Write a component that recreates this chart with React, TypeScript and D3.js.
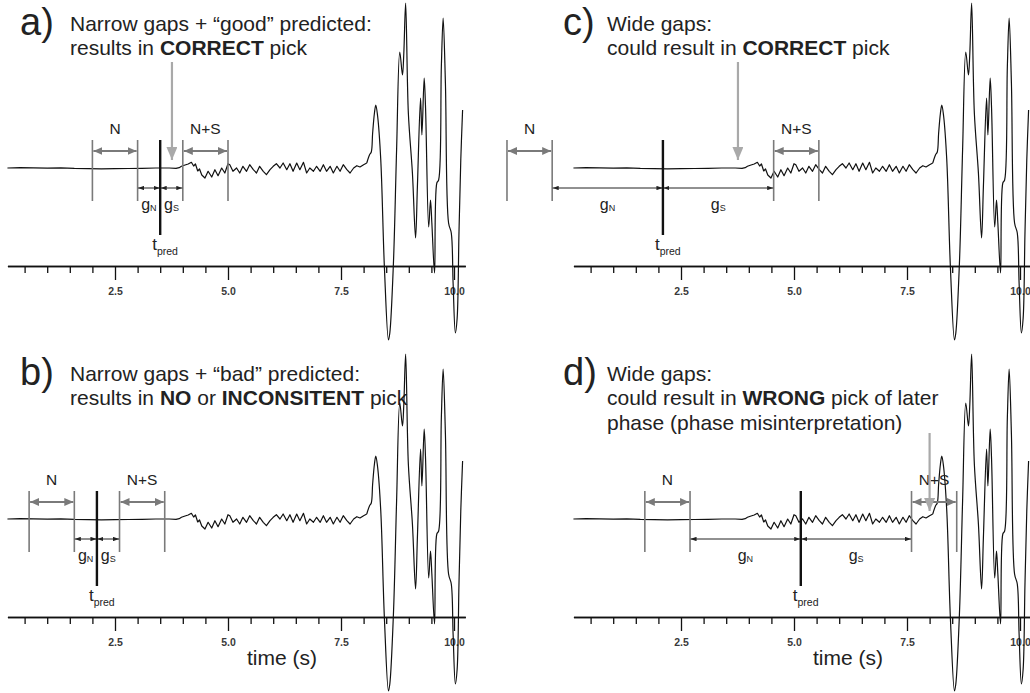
import React, { useRef, useEffect } from "react";
import * as d3 from "d3";

// seismogram: time (s) and amplitude (counts)
const traceTime = [
  0.12, 0.4, 0.7, 1.0, 1.3, 1.6, 1.9, 2.2, 2.5, 2.8, 3.1, 3.4, 3.7, 3.85,
  3.92, 3.97, 4.05, 4.12, 4.19, 4.24, 4.28, 4.33, 4.37, 4.42, 4.49, 4.56, 4.64, 4.71, 4.78, 4.86, 4.93, 5.0,
  5.04, 5.11, 5.19, 5.26, 5.33, 5.41, 5.48, 5.56, 5.63, 5.7, 5.78, 5.85, 5.93, 6.0, 6.07, 6.15, 6.22, 6.3, 6.37, 6.44, 6.52,
  6.59, 6.67, 6.74, 6.81, 6.89, 6.96, 7.04, 7.11, 7.18, 7.26, 7.33, 7.41, 7.48, 7.55, 7.63, 7.7, 7.78, 7.85, 7.92, 8.0, 8.07,
  8.13, 8.17, 8.2, 8.24, 8.27, 8.31, 8.38, 8.46, 8.55, 8.58, 8.66, 8.73, 8.8, 8.86, 8.89, 8.93, 8.99, 9.08, 9.15, 9.19,
  9.26, 9.29, 9.34, 9.37, 9.44, 9.48, 9.51, 9.57, 9.62, 9.66, 9.72, 9.76, 9.81, 9.88, 9.94, 9.98, 10.03, 10.07, 10.11,
  10.15, 10.19,
];
const traceAmp = [
  0, 0.4, 0.2, -0.2, 0.1, -0.4, -0.6, -0.8, -0.6, -0.5, -0.3, 0, 0, -0.3,
  0.3, 1.7, 3, 4, 5.7, 2, 4, -3, -1, -7, -10, -3.3, -9, -1.7, -7.7, 0, -5, 4.3,
  3.3, -3.3, 0, -5, 1.7, -3.3, 3.3, -1.7, -5, 1.7, -3.3, -6.7, -1.7, 1.7, 4.3, 0, 5, -1.7, 4.3, -3.3, 5,
  -1.7, 5.7, -5, 0, -3.3, 1.7, -3.3, 3.3, -3.3, 1.7, -5, 1.7, -3.3, 3.3, -1.7, -5, 0, 2.3, 1, 3.3, 5,
  13, 16, 35, 55, 63, 52, 8, -99, -172, -165, -95, 18, 116, 93, 115, 165, 55, -5, -70, -19,
  70, 33, 90, 61, -59, -32, -55, -105, -15, -12, 101, 150, 85, -55, -65, -115, -165, -150, -65,
  8, 58,
];
const arrivalTime = 8.07; // noise is drawn straight, the big arrival smooth

const panelIds = ["a", "b", "c", "d"];
const titles = [
  ["Narrow gaps + “good” predicted:", "results in **CORRECT** pick"],
  ["Narrow gaps + “bad” predicted:", "results in **NO** or **INCONSITENT** pick"],
  ["Wide gaps:", "could result in **CORRECT** pick"],
  ["Wide gaps:", "could result in **WRONG** pick of later", "phase (phase misinterpretation)"],
];
const tPred = [3.5, 2.1, 2.1, 5.15];
const gapN = [0.5, 0.5, 2.45, 2.45];
const gapS = [0.5, 0.5, 2.45, 2.45];
const winLen = [1, 1, 1, 1];
const pickTime = [3.76, null, 3.76, 8.0];
const majorTicks = [2.5, 5, 7.5, 10];
const tickLabels = ["2.5", "5.0", "7.5", "10.0"];

const W = 1030;
const H = 693;
const FONT = "'Liberation Sans', Arial, Helvetica, sans-serif";

export default function App() {
  const svgRef = useRef<SVGSVGElement>(null);

  useEffect(() => {
    const svg = d3.select(svgRef.current);
    svg.selectAll("*").remove();
    svg.append("rect").attr("width", W).attr("height", H).attr("fill", "#fff");

    const defs = svg.append("defs");
    const marker = (id: string, color: string, len: number, half: number) => {
      const m = defs.append("marker")
        .attr("id", id)
        .attr("viewBox", `0 0 ${len} ${half * 2}`)
        .attr("refX", len)
        .attr("refY", half)
        .attr("markerWidth", len)
        .attr("markerHeight", half * 2)
        .attr("markerUnits", "userSpaceOnUse")
        .attr("orient", "auto-start-reverse");
      m.append("path").attr("d", `M0,0L${len},${half}L0,${half * 2}Z`).attr("fill", color);
    };
    marker("headGray", "#7a7a7a", 9, 4);
    marker("headBlack", "#222", 6, 2.2);
    marker("headPick", "#a9a9a9", 13, 5.5);

    const split = traceTime.indexOf(arrivalTime);
    const pts = traceTime.map((t, k) => [t, traceAmp[k]] as [number, number]);
    const quietPts = pts.slice(0, split + 1);
    const loudPts = pts.slice(split);

    panelIds.forEach((id, i) => {
      const left = i < 2 ? 2 : 568;
      const base = i % 2 === 0 ? 168 : 519;
      const x = d3.scaleLinear().domain([0, 10]).range([left, left + 452]);
      const y = d3.scaleLinear().domain([-200, 200]).range([base + 200, base - 200]);
      const g = svg.append("g");

      // title
      const top = i % 2 === 0 ? 30.5 : 380.5;
      g.append("text")
        .attr("x", i < 2 ? 20 : 563)
        .attr("y", top + 4.5)
        .attr("font-family", FONT)
        .attr("font-size", 38)
        .attr("fill", "#222")
        .text(id + ")");
      titles[i].forEach((ln, k) => {
        const t = g.append("text")
          .attr("x", i < 2 ? 70 : 607)
          .attr("y", top + k * 24.5)
          .attr("font-family", FONT)
          .attr("font-size", 21)
          .attr("fill", "#222");
        ln.split("**").forEach((part, j) => {
          t.append("tspan").attr("font-weight", j % 2 ? "bold" : "normal").text(part);
        });
      });

      // time axis
      const axisY = base + 98;
      const xa = x.copy().domain([0.12, 10.25]).range([x(0.12), x(10.25)]);
      const minor = xa.ticks(20).filter((t) => !majorTicks.includes(t));
      const minorAxis = g.append("g")
        .attr("transform", `translate(0,${axisY})`)
        .call(d3.axisBottom(xa).tickValues(minor).tickSize(7).tickSizeOuter(0).tickFormat(() => ""));
      const majorAxis = g.append("g")
        .attr("transform", `translate(0,${axisY})`)
        .call(d3.axisBottom(xa).tickValues(majorTicks).tickSize(14).tickSizeOuter(0).tickPadding(8)
          .tickFormat((d, k) => tickLabels[k]));
      [minorAxis, majorAxis].forEach((ax) => {
        ax.selectAll("path, line").attr("stroke", "#111").attr("stroke-width", 1.3);
        ax.selectAll("text")
          .attr("font-family", FONT)
          .attr("font-size", 10.5)
          .attr("font-weight", "bold")
          .attr("fill", "#3a3a3a");
      });

      if (i % 2 === 1) {
        g.append("text")
          .attr("x", x(5) + 54)
          .attr("y", base + 146)
          .attr("text-anchor", "middle")
          .attr("font-family", FONT)
          .attr("font-size", 21)
          .attr("fill", "#222")
          .text("time (s)");
      }

      // waveform: straight segments for the noise, smooth for the arrival
      const straight = d3.line<[number, number]>()
        .x((d) => x(d[0]))
        .y((d) => y(d[1]));
      const smooth = d3.line<[number, number]>()
        .x((d) => x(d[0]))
        .y((d) => y(d[1]))
        .curve(d3.curveCatmullRom.alpha(0.5));
      [straight(quietPts), smooth(loudPts)].forEach((dd) => {
        g.append("path")
          .attr("d", dd)
          .attr("fill", "none")
          .attr("stroke", "#111")
          .attr("stroke-width", 1.2)
          .attr("stroke-linejoin", "round");
      });

      // windows and gaps
      const tp = tPred[i];
      const nEnd = tp - gapN[i];
      const nStart = nEnd - winLen[i];
      const sStart = tp + gapS[i];
      const sEnd = sStart + winLen[i];

      [nStart, nEnd, sStart, sEnd].forEach((t) => {
        g.append("line")
          .attr("x1", x(t)).attr("x2", x(t))
          .attr("y1", base - 28).attr("y2", base + 33)
          .attr("stroke", "#7a7a7a").attr("stroke-width", 1.6);
      });
      [[nStart, nEnd, "N"], [sStart, sEnd, "N+S"]].forEach(([a, b, lab]) => {
        g.append("line")
          .attr("x1", x(a as number) + 1).attr("x2", x(b as number) - 1)
          .attr("y1", base - 17).attr("y2", base - 17)
          .attr("stroke", "#7a7a7a").attr("stroke-width", 2)
          .attr("marker-start", "url(#headGray)").attr("marker-end", "url(#headGray)");
        g.append("text")
          .attr("x", (x(a as number) + x(b as number)) / 2)
          .attr("y", base - 34.5)
          .attr("text-anchor", "middle")
          .attr("font-family", FONT)
          .attr("font-size", 15.5)
          .attr("fill", "#222")
          .text(lab as string);
      });

      [[nEnd, tp, "N"], [tp, sStart, "S"]].forEach(([a, b, sub]) => {
        g.append("line")
          .attr("x1", x(a as number) + 0.5).attr("x2", x(b as number) - 0.5)
          .attr("y1", base + 20).attr("y2", base + 20)
          .attr("stroke", "#222").attr("stroke-width", 1)
          .attr("marker-start", "url(#headBlack)").attr("marker-end", "url(#headBlack)");
        const t = g.append("text")
          .attr("x", (x(a as number) + x(b as number)) / 2)
          .attr("y", base + 42)
          .attr("text-anchor", "middle")
          .attr("font-family", FONT)
          .attr("fill", "#222");
        t.append("tspan").attr("font-size", 16).text("g");
        t.append("tspan").attr("font-size", 9).attr("dy", 1).text(sub as string);
      });

      g.append("line")
        .attr("x1", x(tp)).attr("x2", x(tp))
        .attr("y1", base - 28).attr("y2", base + 67)
        .attr("stroke", "#111").attr("stroke-width", 2.4);
      const tl = g.append("text")
        .attr("x", x(tp) - 8)
        .attr("y", base + 82)
        .attr("font-family", FONT)
        .attr("fill", "#222");
      tl.append("tspan").attr("font-size", 17).text("t");
      tl.append("tspan").attr("font-size", 10.5).attr("dy", 5).text("pred");

      // pick arrow
      const pk = pickTime[i];
      if (pk !== null) {
        const y0 = i === 3 ? base - 86 : base - 106;
        g.append("line")
          .attr("x1", x(pk)).attr("x2", x(pk))
          .attr("y1", y0).attr("y2", base - 8)
          .attr("stroke", "#a9a9a9").attr("stroke-width", 2.2)
          .attr("marker-end", "url(#headPick)");
      }
    });
  }, []);

  return (
    <svg
      ref={svgRef}
      width={W}
      height={H}
      style={{ position: "fixed", left: 0, top: 0, background: "#fff" }}
    />
  );
}
